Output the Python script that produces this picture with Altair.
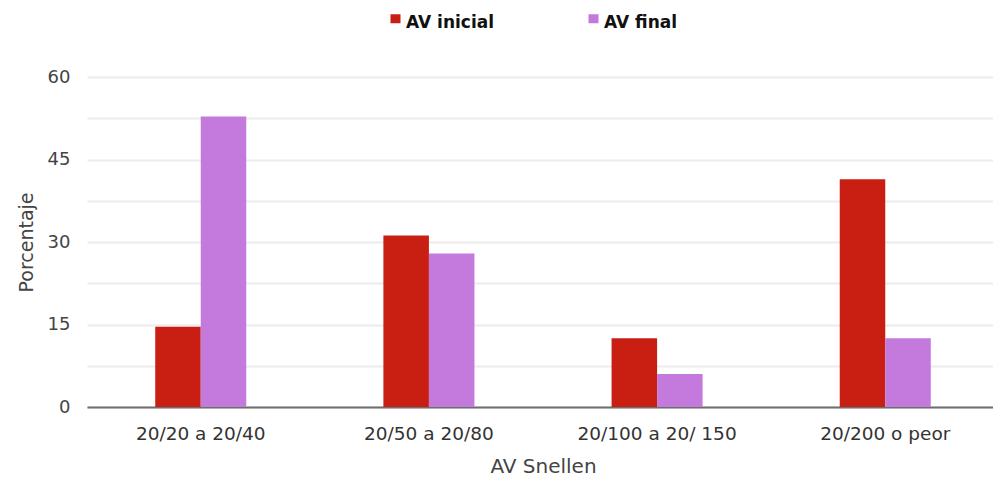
import altair as alt
import pandas as pd

categories = ["20/20 a 20/40", "20/50 a 20/80", "20/100 a 20/ 150", "20/200 o peor"]
series = ["AV inicial", "AV final"]
av_inicial = [14.6, 31.2, 12.5, 41.4]
av_final = [52.8, 27.9, 6.0, 12.5]
colors = ["#C81F12", "#C479DD"]

rows = []
for cat, a, b in zip(categories, av_inicial, av_final):
    rows.append({"cat": cat, "serie": series[0], "valor": a})
    rows.append({"cat": cat, "serie": series[1], "valor": b})
df = pd.DataFrame(rows)

font = "DejaVu Sans"

# square legend marker raised to sit level with the top of the label text
marker = "M-1,-1.7H1V0.1H-1Z"

bars = alt.Chart(df).mark_bar().encode(
    x=alt.X(
        "cat:N",
        sort=categories,
        title="AV Snellen",
        scale=alt.Scale(paddingInner=0.601, paddingOuter=0.299, range=[0, 912]),
        axis=alt.Axis(
            labelAngle=0,
            labelFont=font,
            labelFontSize=18.5,
            labelColor="#333333",
            labelPadding=17,
            ticks=False,
            domainColor="#6E6E6E",
            domainWidth=2,
            titleFont=font,
            titleFontSize=20,
            titleFontWeight="normal",
            titleColor="#444444",
            titlePadding=14,
        ),
    ),
    xOffset=alt.XOffset("serie:N", sort=series),
    y=alt.Y(
        "valor:Q",
        title="Porcentaje",
        scale=alt.Scale(domain=[0, 60], nice=False),
        axis=alt.Axis(
            values=[0, 7.5, 15, 22.5, 30, 37.5, 45, 52.5, 60],
            labelExpr="datum.value % 15 == 0 ? datum.label : ''",
            labelFont=font,
            labelFontSize=18,
            labelColor="#444444",
            labelPadding=17,
            ticks=False,
            domain=False,
            gridColor="#ECECEC",
            gridWidth=2,
            titleFont=font,
            titleFontSize=19,
            titleFontWeight="normal",
            titleColor="#444444",
            titlePadding=11,
        ),
    ),
    color=alt.Color(
        "serie:N",
        sort=series,
        scale=alt.Scale(domain=series, range=colors),
        legend=alt.Legend(
            title=None,
            orient="none",
            legendX=300,
            legendY=-63,
            direction="horizontal",
            symbolType=marker,
            symbolSize=100,
            symbolStrokeWidth=0,
            labelFont=font,
            labelFontSize=17,
            labelFontWeight="bold",
            labelColor="#111111",
            labelOffset=2,
            columnPadding=90,
        ),
    ),
)

chart = bars.properties(
    width=906,
    height=330,
    autosize=alt.AutoSizeParams(type="none"),
    padding={"left": 87, "top": 77, "right": 0, "bottom": 71},
).configure_view(stroke=None)

chart.save("out.html", embed_options={"renderer": "svg", "actions": False})
